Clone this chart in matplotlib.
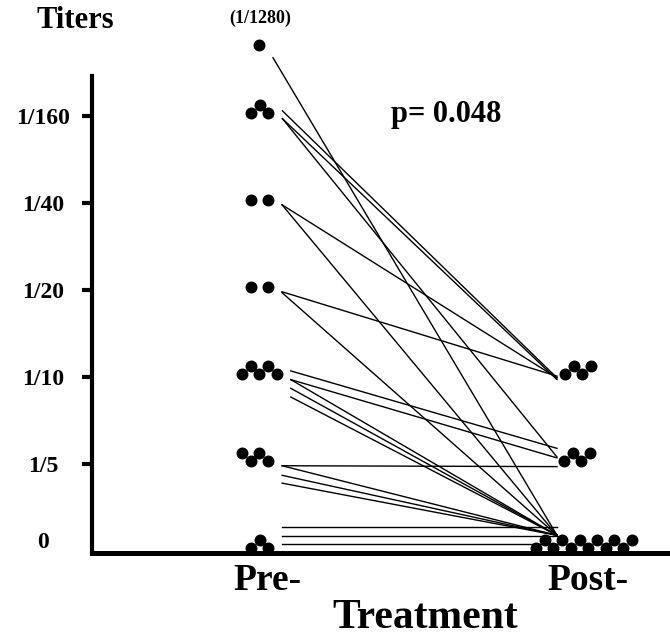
import matplotlib
matplotlib.use("Agg")
import matplotlib.pyplot as plt
from matplotlib.transforms import blended_transform_factory

# titer levels shown on the y axis (1/1280 sits above the axis top)
titer_labels = ["0", "1/5", "1/10", "1/20", "1/40", "1/160"]
titer_denoms = [0, 5, 10, 20, 40, 160, 1280]
titer_pos = [0, 1, 2, 3, 4, 5, 5.82]

# one entry per patient: denominator of the titer before / after treatment
pre_titer = [1280, 160, 160, 160, 40, 40, 20, 20, 10, 10, 10, 10, 10, 5, 5, 5, 5, 0, 0, 0]
post_titer = [0, 10, 10, 5, 10, 0, 10, 0, 5, 5, 0, 0, 0, 5, 0, 0, 0, 0, 0, 0]

p_text = "p= 0.048"

# small vertical offsets of the line ends, as drawn in the original
pre_off = [-0.15, 0.06, -0.03, -0.03, -0.02, -0.02, -0.02, -0.03, 0.07, -0.03,
           -0.03, -0.13, -0.23, -0.02, -0.02, -0.13, -0.22, 0.28, 0.17, 0.08]
post_off = [0.18, -0.01, -0.03, 0.08, -0.01, 0.18, 0.01, 0.18, 0.18, 0.07,
            0.18, 0.18, 0.18, -0.03, 0.18, 0.18, 0.18, 0.28, 0.17, 0.08]

PX = 320.0  # pixels per x unit
PRE_X, POST_X = 1.0, 2.0

# dot cluster layout: start offset (px), step (px), zigzag?, first dot on top row?
pre_layout = {1280: (-1, 8.7, True, False), 160: (-9, 8.7, True, False),
              40: (-9, 17, False, False), 20: (-9, 17, False, False),
              10: (-18, 8.7, True, False), 5: (-18, 8.7, True, True),
              0: (-9, 8.7, True, False)}
post_layout = {10: (-15, 8.7, True, False), 5: (-16, 8.7, True, False),
               0: (-44, 8.7, True, False)}

plt.rcParams['font.family'] = ['Liberation Serif', 'DejaVu Serif']
plt.rcParams['font.weight'] = 'bold'


def level(denom):
    return titer_pos[titer_denoms.index(denom)]


def cluster(xc, denom, n, layout):
    start, step, zig, top_first = layout
    xs, ys = [], []
    for i in range(n):
        top = (i % 2 == 0) == top_first if zig else False
        xs.append(xc + (start + i * step) / PX)
        if denom == 1280:
            ys.append(level(denom))
        else:
            ys.append(level(denom) + (0.13 if top else 0.03))
    return xs, ys


fig = plt.figure(figsize=(6.7, 6.4), dpi=100)
ax = fig.add_axes([92 / 670, 87 / 640, 578 / 670, 477 / 640])
ax.set_xlim(1 - 168 / PX, 2 + 90 / PX)
ax.set_ylim(-0.023, 5.46)

# connecting lines
right_edge = {}
for d, lay in pre_layout.items():
    n = pre_titer.count(d)
    xs, _ = cluster(PRE_X, d, n, lay)
    right_edge[d] = max(xs)
for i in range(len(pre_titer)):
    x0 = right_edge[pre_titer[i]] + 14 / PX
    x1 = POST_X - 23 / PX
    y0 = level(pre_titer[i]) + pre_off[i]
    y1 = level(post_titer[i]) + post_off[i]
    ax.plot([x0, x1], [y0, y1], color='black', lw=1.0, clip_on=False)

# dots
for d, lay in pre_layout.items():
    xs, ys = cluster(PRE_X, d, pre_titer.count(d), lay)
    ax.plot(xs, ys, 'o', color='black', ms=7.6, clip_on=False, zorder=3)
for d, lay in post_layout.items():
    xs, ys = cluster(POST_X, d, post_titer.count(d), lay)
    ax.plot(xs, ys, 'o', color='black', ms=7.6, clip_on=False, zorder=3)

# axes styling
for s in ['top', 'right']:
    ax.spines[s].set_visible(False)
ax.spines['left'].set_linewidth(3.0)
ax.spines['bottom'].set_linewidth(3.6)
ax.set_xticks([])
ax.set_yticks(titer_pos[1:6])
ax.set_yticklabels(titer_labels[1:], fontsize=17, fontweight='bold')
ax.tick_params(axis='y', length=7, width=3, pad=28)
for t in ax.get_yticklabels():
    t.set_ha('center')
ax.text(-49 / 578, 0.1, titer_labels[0], transform=ax.get_yaxis_transform(),
        ha='center', va='center', fontsize=17, fontweight='bold')

fig.text(75 / 670, 1 - 20 / 640, "Titers", ha='center', va='center',
         fontsize=22, fontweight='bold')
fig.text(260 / 670, 1 - 18 / 640, "(1/1280)", ha='center', va='center',
         fontsize=13, fontweight='bold')
ax.text(0.612, 0.92, p_text, transform=ax.transAxes, ha='center', va='center',
        fontsize=22, fontweight='bold')

tr = blended_transform_factory(ax.transData, fig.transFigure)
ax.text(PRE_X + 7 / PX, 1 - 590 / 640, "Pre-", transform=tr, ha='center',
        va='baseline', fontsize=27, fontweight='bold')
ax.text(POST_X + 8 / PX, 1 - 590 / 640, "Post-", transform=tr, ha='center',
        va='baseline', fontsize=27, fontweight='bold')
fig.text(425 / 670, 1 - 628 / 640, "Treatment", ha='center', va='baseline',
         fontsize=30, fontweight='bold')

fig.savefig("out.png", dpi=100)
